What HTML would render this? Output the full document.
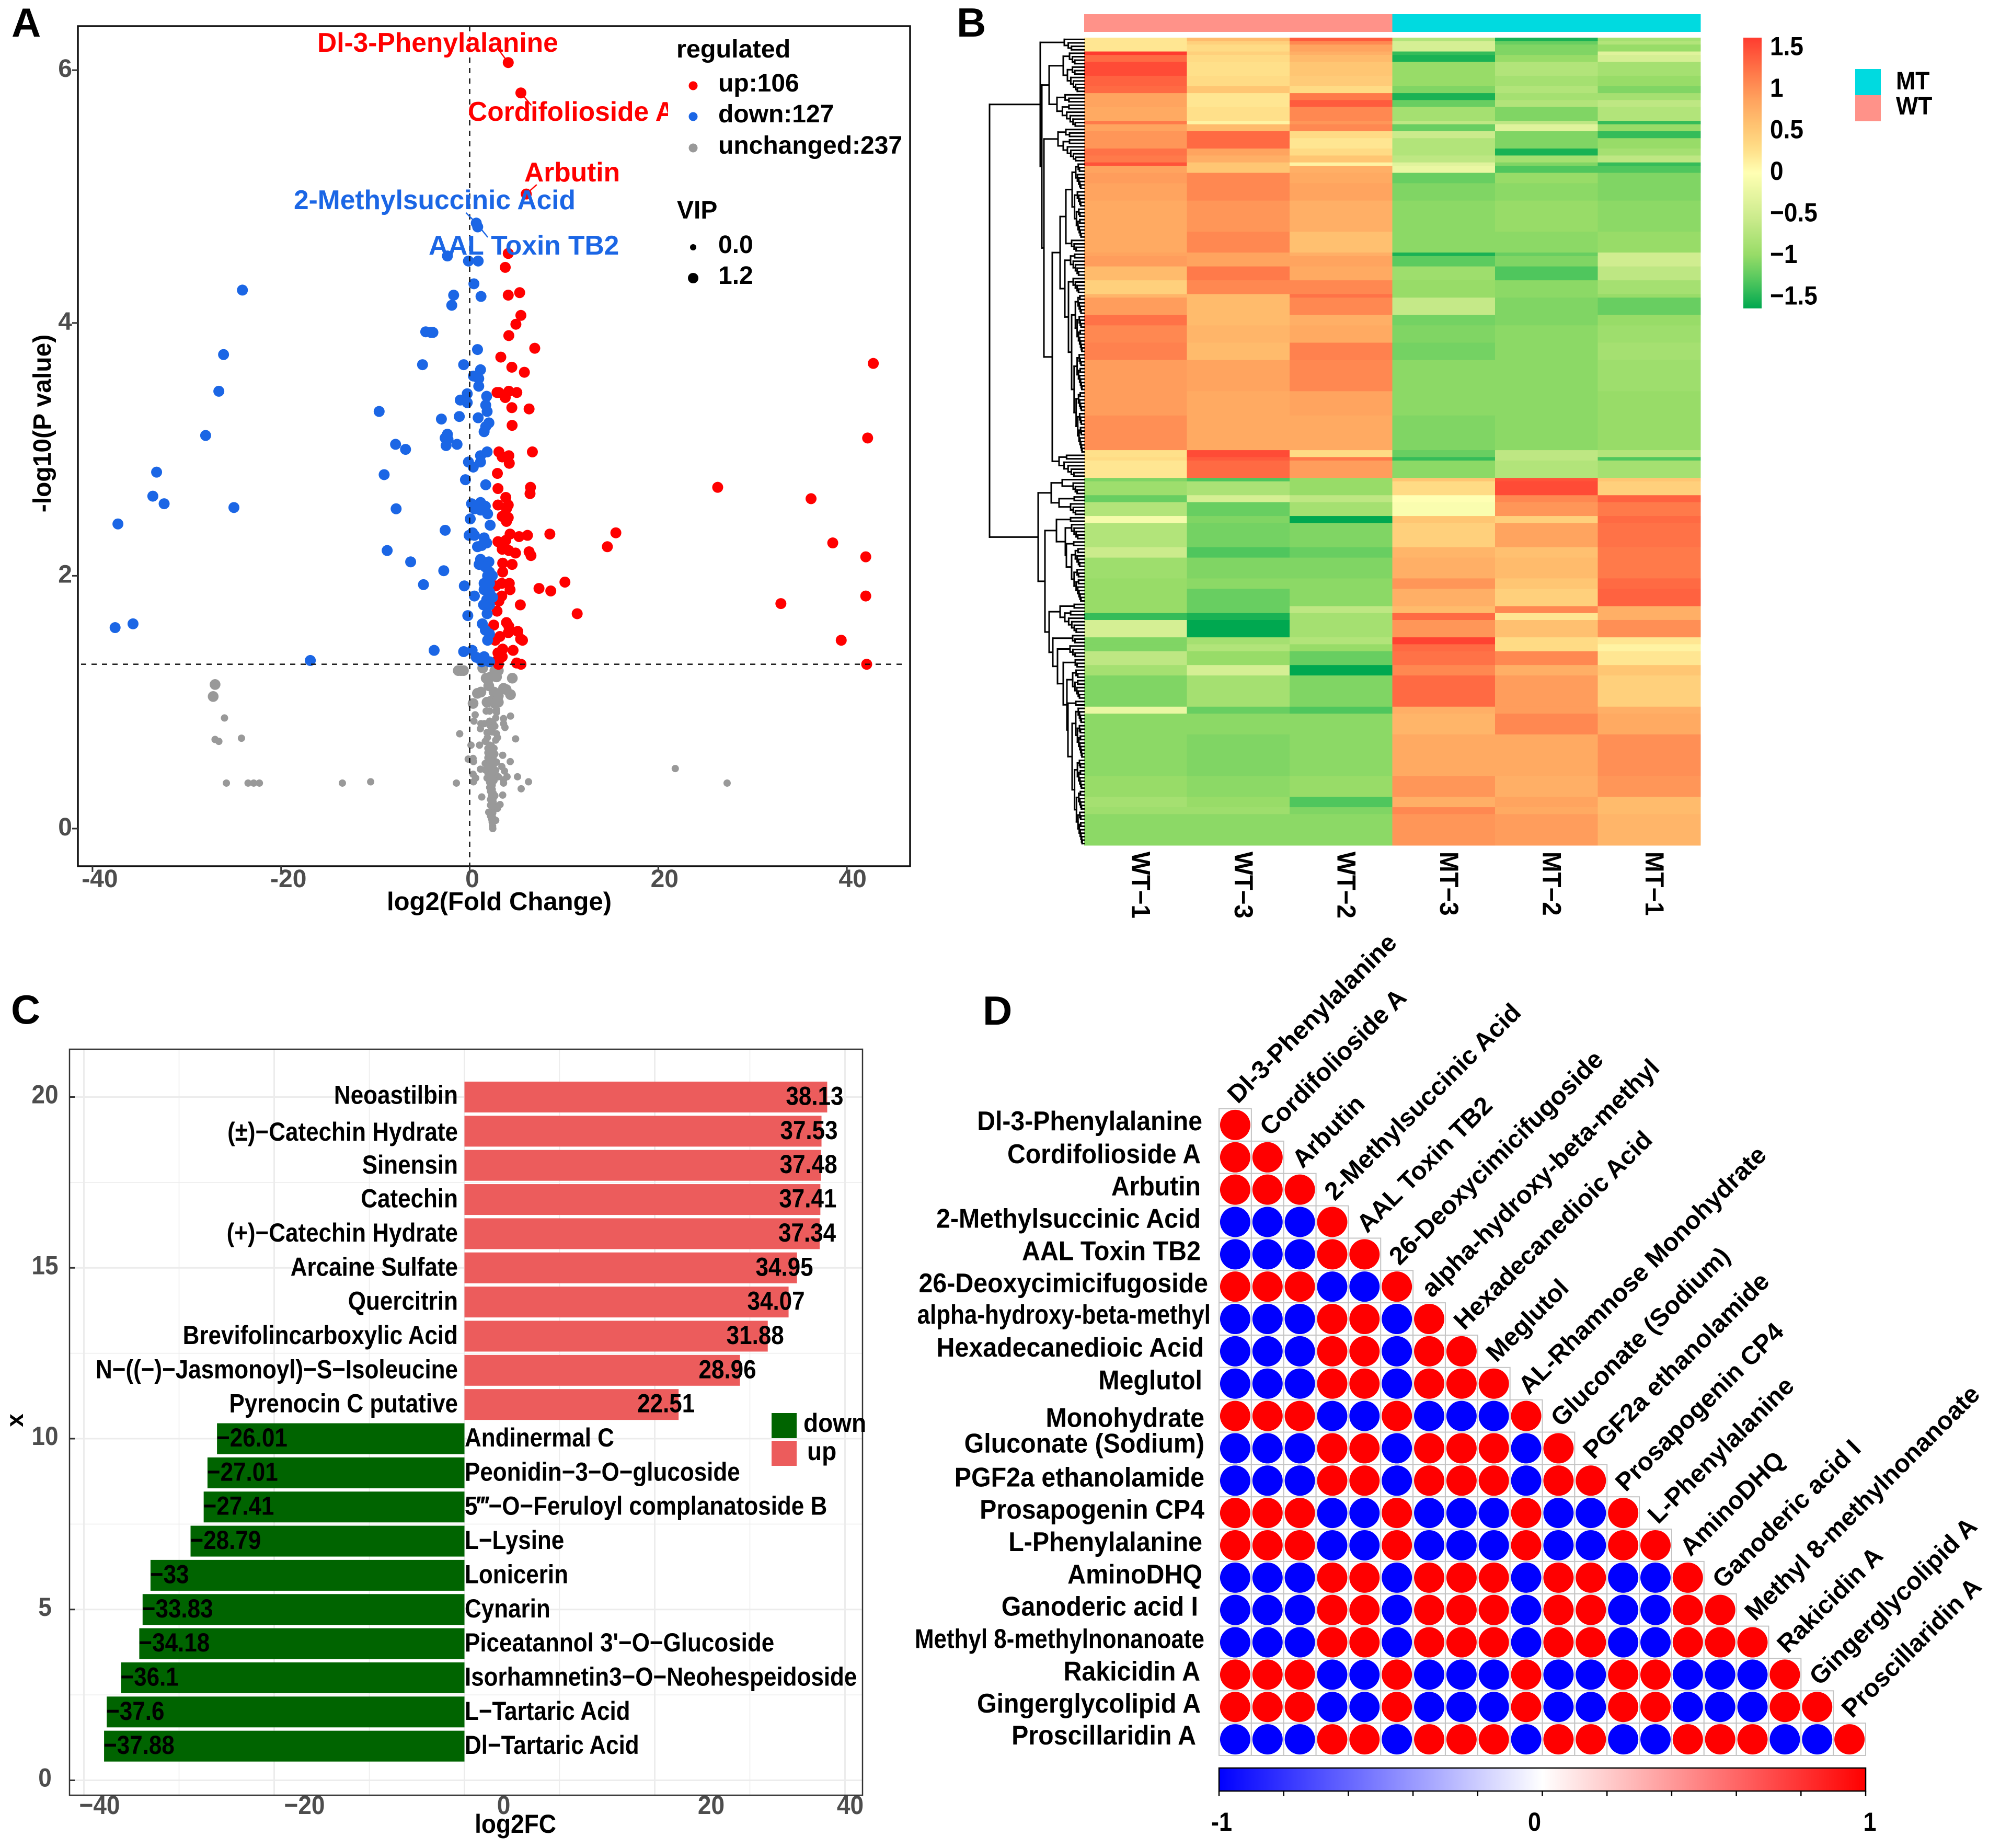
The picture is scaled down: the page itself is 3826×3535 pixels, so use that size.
<!DOCTYPE html>
<html lang="en">
<head>
<meta charset="utf-8">
<title>Metabolomics figure panels A-D</title>
<style>
html,body{margin:0;padding:0;background:#fff;}
svg{display:block;font-family:"Liberation Sans",Arial,sans-serif;font-weight:bold;}
</style>
</head>
<body>
<svg id="fig" xmlns="http://www.w3.org/2000/svg" width="3826" height="3535" viewBox="0 0 3826 3535">
<defs>
<linearGradient id="corrGrad" x1="0" x2="1" y1="0" y2="0"><stop offset="0" stop-color="#0000ff"/><stop offset="0.5" stop-color="#ffffff"/><stop offset="1" stop-color="#ff0000"/></linearGradient>
<linearGradient id="heatGrad" x1="0" x2="0" y1="1" y2="0"></linearGradient>
</defs>
<rect x="0" y="0" width="3826" height="3535" fill="#fff"/>

<text x="22" y="70" font-size="78" fill="#000">A</text>
<text x="1830" y="70" font-size="78" fill="#000">B</text>
<text x="21" y="1958" font-size="78" fill="#000">C</text>
<text x="1880" y="1960" font-size="78" fill="#000">D</text>

<g id="panelA"></g>
<g id="panelB"></g>
<g id="panelC"></g>
<g id="panelD"></g>
</svg>

<script>
/* ===== Panel A data: [log2FC, -log10P] ===== */
var upPoints = [[4.09,6.06],[5.43,5.82],[6.0,5.02],[4.09,4.55],[3.77,4.44],[5.3,4.24],[4.09,4.22],[5.43,4.06],[4.9,3.99],[4.15,3.9],[6.9,3.8],[3.3,3.73],[4.47,3.65],[5.8,3.61],[42.8,3.68],[42.2,3.09],[2.9,3.45],[3.1,3.45],[4.15,3.46],[5.0,3.45],[3.77,3.41],[4.47,3.33],[6.3,3.32],[4.5,3.19],[3.1,2.98],[6.65,2.98],[4.15,2.95],[3.45,2.94],[4.2,2.89],[2.94,2.81],[6.45,2.7],[3.0,2.69],[6.4,2.65],[3.83,2.62],[3.0,2.56],[4.09,2.56],[3.9,2.53],[3.45,2.47],[4.09,2.46],[3.9,2.43],[26.3,2.7],[36.2,2.61],[4.28,2.33],[6.13,2.32],[5.24,2.31],[8.5,2.33],[15.5,2.34],[14.6,2.23],[3.0,2.27],[3.83,2.28],[3.45,2.21],[4.15,2.2],[4.86,2.18],[6.3,2.19],[6.5,2.16],[38.5,2.26],[42.0,2.15],[3.5,2.1],[4.5,2.09],[3.5,2.03],[2.75,1.92],[3.4,1.94],[4.2,1.94],[4.28,1.89],[7.35,1.9],[8.6,1.88],[10.1,1.95],[3.4,1.84],[3.1,1.8],[5.37,1.77],[33.0,1.78],[42.0,1.84],[2.9,1.72],[11.4,1.7],[2.55,1.61],[3.9,1.63],[4.15,1.6],[4.1,1.55],[5.1,1.56],[3.2,1.52],[2.7,1.49],[5.4,1.5],[5.6,1.49],[39.4,1.49],[3.5,1.42],[4.6,1.41],[3.0,1.39],[3.45,1.36],[2.94,1.33],[3.05,1.3],[4.98,1.31],[5.44,1.3],[42.1,1.3]];
var downPoints = [[0.7,4.79],[0.85,4.76],[-2.36,4.53],[-0.13,4.49],[0.9,4.49],[0.45,4.31],[-24.1,4.26],[-1.7,4.22],[1.2,4.21],[-1.9,4.14],[-4.66,3.93],[-4.1,3.925],[-3.9,3.925],[0.83,3.79],[-26.1,3.75],[-5,3.67],[-0.64,3.67],[1.15,3.63],[0.4,3.58],[0.96,3.56],[0.96,3.5],[-26.6,3.46],[-0.26,3.44],[1.8,3.42],[-1.0,3.39],[-0.26,3.37],[1.7,3.35],[1.85,3.3],[-9.6,3.3],[-1.1,3.26],[0.9,3.25],[-3.0,3.24],[2.04,3.21],[1.7,3.18],[1.53,3.14],[-2.36,3.12],[-2.6,3.09],[-2.3,3.08],[-28.0,3.11],[-1.34,3.04],[-2.5,3.03],[-7.86,3.04],[-6.8,3.0],[1.85,2.98],[1.15,2.95],[-0.13,2.9],[1.15,2.9],[0.38,2.86],[-33.2,2.82],[-9.07,2.8],[-0.45,2.76],[1.7,2.72],[-33.6,2.63],[-32.4,2.57],[0.2,2.57],[1.15,2.58],[1.66,2.55],[0.5,2.53],[-25.0,2.54],[-7.8,2.53],[1.15,2.52],[1.9,2.49],[0.06,2.45],[-37.3,2.41],[2.17,2.4],[-2.6,2.36],[0.3,2.34],[-0.06,2.32],[0.5,2.32],[1.53,2.3],[1.8,2.26],[1.28,2.24],[0.83,2.23],[-8.75,2.2],[-6.26,2.11],[1.15,2.13],[2.04,2.11],[1.0,2.09],[1.66,2.07],[-2.75,2.04],[2.1,2.03],[1.9,2.0],[2.4,2.0],[1.53,1.94],[2.1,1.94],[-4.9,1.93],[-0.57,1.92],[1.53,1.89],[2.1,1.87],[0.5,1.84],[2.43,1.83],[1.8,1.81],[1.47,1.77],[2.1,1.77],[1.85,1.7],[-0.2,1.685],[1.34,1.62],[-37.6,1.59],[-35.7,1.62],[1.66,1.57],[2.1,1.54],[1.9,1.49],[-3.77,1.41],[-0.64,1.4],[0.26,1.41],[0.7,1.355],[1.53,1.36],[-16.9,1.33],[1.28,1.32],[2.1,1.32]];
var unchangedHighVip = [[-27.0,1.14],[-27.2,1.045],[1.38,1.27],[-1.21,1.25],[-0.93,1.25],[-0.66,1.25],[2.67,1.25],[3.04,1.25],[2.76,1.23],[1.75,1.19],[2.21,1.2],[2.85,1.2],[4.52,1.19],[2.02,1.13],[3.59,1.11],[3.87,1.1],[0.82,1.07],[1.19,1.08],[2.58,1.08],[4.33,1.06],[3.04,1.05],[0.36,0.99],[1.84,1.0],[2.3,1.01],[2.85,1.01],[3.04,1.0],[2.67,0.99]];
var unchangedLowVip = [[-26,0.875],[-27.0,0.705],[-26.6,0.69],[-24.2,0.715],[-25.8,0.36],[-23.5,0.36],[-22.9,0.36],[-22.3,0.36],[-13.5,0.36],[21.8,0.475],[27.3,0.36],[1.75,0.93],[2.12,0.93],[2.85,0.94],[2.85,0.92],[0.58,0.9],[4.33,0.89],[2.76,0.875],[3.59,0.87],[0.45,0.85],[1.19,0.83],[1.56,0.83],[2.12,0.85],[2.49,0.83],[3.59,0.83],[1.14,0.79],[3.74,0.8],[2.21,0.81],[2.67,0.81],[-1.06,0.75],[1.84,0.76],[2.39,0.765],[2.85,0.75],[1.88,0.72],[2.95,0.72],[2.76,0.7],[1.65,0.69],[4.87,0.71],[0.14,0.66],[1.04,0.66],[2.12,0.66],[2.3,0.655],[1.93,0.635],[2.39,0.615],[2.67,0.59],[3.5,0.58],[2.39,0.585],[1.93,0.56],[-0.16,0.55],[0.36,0.555],[0.4,0.53],[2.49,0.56],[2.3,0.54],[2.85,0.525],[4.3,0.53],[1.65,0.515],[2.21,0.51],[1.14,0.47],[1.65,0.465],[3.41,0.49],[2.3,0.475],[2.76,0.46],[3.69,0.455],[0.36,0.43],[1.93,0.44],[2.49,0.435],[3.96,0.41],[0.64,0.4],[1.84,0.4],[2.3,0.4],[3.04,0.41],[5.07,0.41],[-10.5,0.37],[-1.41,0.36],[0.4,0.37],[3.59,0.385],[3.59,0.36],[6.24,0.37],[2.12,0.365],[2.3,0.38],[2.12,0.325],[5.46,0.315],[2.39,0.31],[2.49,0.28],[1.28,0.25],[3.5,0.265],[2.67,0.26],[2.3,0.255],[2.21,0.23],[3.22,0.19],[2.49,0.21],[2.21,0.185],[2.67,0.18],[2.95,0.16],[2.02,0.13],[2.39,0.14],[2.39,0.11],[2.3,0.08],[2.76,0.065],[2.39,0.05],[2.43,0.02],[2.45,0.0],[2.21,0.34],[2.39,0.345],[2.21,0.295],[2.49,0.24],[2.3,0.2],[2.58,0.165],[2.45,0.125],[2.21,0.1],[2.49,0.08],[2.39,0.06],[2.21,0.42],[2.58,0.38],[1.93,0.6],[2.12,0.615],[2.58,0.635],[2.02,0.545],[2.58,0.51],[1.93,0.49],[2.39,0.46]];
var volcanoXTicks = [-40,-20,0,20,40];
var volcanoYTicks = [0,2,4,6];
var volcanoPThreshold = [1.3];
var volcanoFcThreshold = [0];

/* ===== Panel B data ===== */
var heatSamples = ["WT\u22121","WT\u22123","WT\u22122","MT\u22123","MT\u22122","MT\u22121"];
var heatGroups = ["WT","WT","WT","MT","MT","MT"];
var heatBandRows = [1,1,2,1,2,4,3,2,2,2,4,1,2,2,3,2,2,1,2,3,5,9,6,1,3,4,4,1,5,3,5,5,9,7,10,2,1,5,1,4,2,4,2,7,3,6,3,5,2,2,5,2,2,4,3,9,2,6,12,6,3,2,9];
var heatBandValues = [
[0.2,0.6,1.3,-0.7,-1.4,-0.8],[0.2,0.4,1.0,-0.4,-1.1,-0.7],[0.2,0.3,0.8,-0.4,-1,-0.9],[1.5,0.4,0.7,-1.3,-1,-0.3],[1.2,0.3,0.6,-1.4,-0.9,-0.4],[1.4,0.25,0.5,-0.9,-0.7,-0.8],[1.25,0.3,0.45,-0.9,-0.8,-0.9],[1.2,0.5,0.3,-1.0,-0.7,-1],[0.8,0.2,1.1,-1.4,-0.8,-0.8],[0.8,0.2,1.3,-1.1,-0.7,-0.6],[0.75,0.25,1.0,-0.8,-1,-0.7],[1.1,0.1,0.9,-0.6,-0.6,-1.3],[0.8,0.6,1.0,-1.1,-0.3,-0.9],[0.9,1.2,0.3,-0.5,-1,-1.3],[0.9,1.2,0.2,-0.7,-1,-0.9],[1.15,0.8,0.3,-0.7,-1.4,-0.8],[1.1,0.7,0.5,-0.6,-0.8,-0.6],[1.35,0.5,0.1,-0.3,-1,-1.3],[0.8,0.5,0.7,-0.2,-1.2,-1.2],[0.85,1.0,0.75,-1.1,-0.9,-1.0],[0.8,1.0,0.8,-1,-0.95,-1],[0.75,0.9,0.7,-0.95,-0.9,-0.95],[0.75,1.0,0.55,-0.95,-0.95,-0.9],[0.8,0.8,0.7,-1.4,-1.1,-0.45],[0.85,0.8,0.8,-1.15,-1.0,-0.45],[0.6,1.1,0.75,-0.85,-1.2,-0.6],[0.4,1.0,1.0,-0.9,-0.95,-0.8],[0.65,0.6,1.15,-0.9,-0.95,-0.9],[0.85,0.6,1.0,-0.55,-1,-1.1],[1.15,0.6,0.7,-1.05,-1.0,-0.9],[1.0,0.65,0.75,-1,-0.95,-0.85],[1.05,0.6,1.05,-1.05,-0.95,-0.8],[0.85,0.8,1.0,-0.95,-0.95,-0.85],[0.85,0.75,0.8,-0.95,-0.95,-0.9],[0.95,0.75,0.75,-1,-0.95,-0.9],[0.25,1.4,0.3,-1.1,-0.6,-0.7],[0.3,1.3,1.1,-1.3,-0.6,-1.2],[0.2,1.2,0.85,-0.95,-0.7,-0.8],
[-1,-1.2,-0.9,0.5,1.35,0.5],[-0.85,-0.75,-0.9,0.3,1.4,0.4],[-1.1,-0.4,-0.6,0.0,1.0,1.25],[-0.7,-1.1,-0.8,-0.05,0.9,1.1],[-0.1,-1,-1.5,0.5,0.4,1.2],[-0.7,-1.05,-1,0.4,0.8,1.15],[-0.5,-1.2,-1.1,0.65,0.55,1.1],[-0.85,-1.0,-1,0.7,0.6,1.1],[-0.9,-0.95,-0.95,0.9,0.5,1.2],[-0.9,-1.1,-0.95,0.7,0.4,1.25],[-0.9,-1.1,-0.6,0.6,1.0,0.7],[-1.3,-1.4,-0.8,1.2,0.2,0.7],[-0.4,-1.5,-0.8,0.9,0.55,0.95],[-1.0,-0.8,-0.7,1.45,0.3,0.2],[-1,-0.7,-0.9,1.2,0.3,0.1],[-0.6,-0.9,-1.1,1.15,1.0,0.2],[-0.8,-0.4,-1.5,1.0,0.7,0.5],[-1.0,-0.8,-1.0,1.2,0.85,0.4],[-0.2,-1.1,-1.2,0.7,0.85,0.7],[-0.95,-0.95,-0.95,0.65,1.0,0.75],[-0.95,-1.0,-0.95,0.75,0.75,0.95],[-0.9,-0.95,-0.9,0.9,0.7,0.9],[-0.8,-0.9,-1.2,0.7,0.8,0.6],[-0.85,-0.85,-1,1.0,0.75,0.6],[-0.95,-0.95,-0.95,0.9,0.85,0.65]];
var heatLegendTicks = [1.5,1,0.5,0,-0.5,-1,-1.5];
var heatLegendLabels = ["1.5","1","0.5","0","\u22120.5","\u22121","\u22121.5"];
/* cluster tree: [distance, child, child]; [distance, n] is a clade of n rows */
var dendroTree = [181,
  [84,[38,4],[81,[67,[40,12],[52,10]],[77,[50,10],[61,[46,[35,[23,22],[24,4]],[37,[26,7],[30,[21,5],[24,46]]]],[48,7]]]]],
  [88,
    [63,[42,[0,1],[21,4]],[48,[19,2],[26,4]]],
    [75,
      [53,[26,2],[36,[24,5],[34,[20,2],[24,16]]]],
      [67,
        [46,[19,2],[37,7]],
        [60,[22,3],[51,[27,4],[40,[17,3],[33,[22,9],[31,[16,2],[23,40]]]]]]
      ]
    ]
  ]
];

/* ===== Panel C data ===== */
var barCategories = ["Neoastilbin","(\u00b1)\u2212Catechin Hydrate","Sinensin","Catechin","(+)\u2212Catechin Hydrate","Arcaine Sulfate","Quercitrin","Brevifolincarboxylic Acid","N\u2212((\u2212)\u2212Jasmonoyl)\u2212S\u2212Isoleucine","Pyrenocin C putative","Andinermal C","Peonidin\u22123\u2212O\u2212glucoside","5\u2034\u2212O\u2212Feruloyl complanatoside B","L\u2212Lysine","Lonicerin","Cynarin","Piceatannol 3'\u2212O\u2212Glucoside","Isorhamnetin3\u2212O\u2212Neohespeidoside","L\u2212Tartaric Acid","Dl\u2212Tartaric Acid"];
var barValues = [38.13,37.53,37.48,37.41,37.34,34.95,34.07,31.88,28.96,22.51,-26.01,-27.01,-27.41,-28.79,-33,-33.83,-34.18,-36.1,-37.6,-37.88];
var barXTicks = [-40,-20,0,20,40];
var barXTickLabels = ["\u221240","\u221220","0","20","40"];
var barYTicks = [0,5,10,15,20];

/* ===== Panel D data ===== */
var corrNames = ["Dl-3-Phenylalanine","Cordifolioside A","Arbutin","2-Methylsuccinic Acid","AAL Toxin TB2","26-Deoxycimicifugoside","alpha-hydroxy-beta-methyl","Hexadecanedioic Acid","Meglutol","AL-Rhamnose Monohydrate","Gluconate (Sodium)","PGF2a ethanolamide","Prosapogenin CP4","L-Phenylalanine","AminoDHQ","Ganoderic acid I","Methyl 8-methylnonanoate","Rakicidin A","Gingerglycolipid A","Proscillaridin A"];
var corrRowLabels = ["Dl-3-Phenylalanine","Cordifolioside A","Arbutin","2-Methylsuccinic Acid","AAL Toxin TB2","26-Deoxycimicifugoside","alpha-hydroxy-beta-methyl","Hexadecanedioic Acid","Meglutol","Monohydrate","Gluconate (Sodium)","PGF2a ethanolamide","Prosapogenin CP4","L-Phenylalanine","AminoDHQ","Ganoderic acid I","Methyl 8-methylnonanoate","Rakicidin A","Gingerglycolipid A","Proscillaridin A"];
var corrMatrix = [
[1],
[1,1],
[1,1,1],
[-1,-1,-1,1],
[-1,-1,-1,1,1],
[1,1,1,-1,-1,1],
[-1,-1,-1,1,1,-1,1],
[-1,-1,-1,1,1,-1,1,1],
[-1,-1,-1,1,1,-1,1,1,1],
[1,1,1,-1,-1,1,-1,-1,-1,1],
[-1,-1,-1,1,1,-1,1,1,1,-1,1],
[-1,-1,-1,1,1,-1,1,1,1,-1,1,1],
[1,1,1,-1,-1,1,-1,-1,-1,1,-1,-1,1],
[1,1,1,-1,-1,1,-1,-1,-1,1,-1,-1,1,1],
[-1,-1,-1,1,1,-1,1,1,1,-1,1,1,-1,-1,1],
[-1,-1,-1,1,1,-1,1,1,1,-1,1,1,-1,-1,1,1],
[-1,-1,-1,1,1,-1,1,1,1,-1,1,1,-1,-1,1,1,1],
[1,1,1,-1,-1,1,-1,-1,-1,1,-1,-1,1,1,-1,-1,-1,1],
[1,1,1,-1,-1,1,-1,-1,-1,1,-1,-1,1,1,-1,-1,-1,1,1],
[-1,-1,-1,1,1,-1,1,1,1,-1,1,1,-1,-1,1,1,1,-1,-1,1]];
var corrBarTicks = [-1,-0.8,-0.6,-0.4,-0.2,0,0.2,0.4,0.6,0.8,1];
var corrBarLabels = ["-1","0","1"];
var corrBarLabelValues = [-1,0,1];

var NS = "http://www.w3.org/2000/svg";
function add(parent, tag, attrs) {
  var e = document.createElementNS(NS, tag);
  for (var k in attrs) { e.setAttribute(k, attrs[k]); }
  parent.appendChild(e);
  return e;
}
function addText(parent, str, x, y, size, fill, anchor, sx, rot) {
  var t = "translate(" + x + "," + y + ")";
  if (rot) { t += " rotate(" + rot + ")"; }
  if (sx && sx !== 1) { t += " scale(" + sx + ",1)"; }
  var e = add(parent, "text", { transform: t, "font-size": size, fill: fill, "text-anchor": anchor || "start" });
  e.textContent = str;
  return e;
}
function groupIn(parent) { return add(parent, "g", {}); }

/* ---------- Panel A ---------- */
(function () {
  var g = document.getElementById("panelA");
  var left = 149, right = 1741, top = 50, bottom = 1657;
  function sx(v) { return 898.5 + 18.04 * v; }
  function sy(v) { return 1585 - 241.8 * v; }

  function drawPoints(list, color, r, name) {
    var layer = groupIn(g);
    
    
    list.forEach(function (p) {
      var c = add(layer, "circle", { cx: sx(p[0]), cy: sy(p[1]), r: r, fill: color });
      
      
    });
  }
  drawPoints(unchangedLowVip, "#999999", 7, "unchanged-low-vip");
  drawPoints(unchangedHighVip, "#999999", 10.3, "unchanged-high-vip");
  drawPoints(upPoints, "#ff0000", 10.5, "up-regulated");
  drawPoints(downPoints, "#1b66e5", 10.5, "down-regulated");

  volcanoFcThreshold.forEach(function (v) {
    var l = add(g, "line", { x1: sx(v), x2: sx(v), y1: top, y2: bottom, stroke: "#111", "stroke-width": 2.5, "stroke-dasharray": "10 10" });
    
    
  });
  volcanoPThreshold.forEach(function (v) {
    var l = add(g, "line", { x1: left + 6, x2: right - 6, y1: sy(v), y2: sy(v), stroke: "#111", "stroke-width": 2.5, "stroke-dasharray": "10 10" });
    
    
  });

  /* point annotations: text, colour, point index in its list, leader offset, label position */
  var annColors = { up: "#ff0000", down: "#1b66e5" };
  var annText = ["Dl-3-Phenylalanine", "Cordifolioside A", "Arbutin", "2-Methylsuccinic Acid", "AAL Toxin TB2"];
  var annKind = ["up", "up", "up", "down", "down"];
  var annIndex = [0, 1, 2, 0, 0];
  var annLead = [[-18, -24], [20, 24], [20, -18], [-20, -20], [22, 27]];
  var annPos = [[607, 99], [895, 231], [1003, 347], [562, 400], [820, 487]];
  annText.forEach(function (t, i) {
    var p = (annKind[i] === "up" ? upPoints : downPoints)[annIndex[i]];
    var l = add(g, "line", { x1: sx(p[0]), y1: sy(p[1]), x2: sx(p[0]) + annLead[i][0], y2: sy(p[1]) + annLead[i][1], stroke: annColors[annKind[i]], "stroke-width": 2.5 });
    
    
    var e = addText(g, t, annPos[i][0], annPos[i][1], 51.5, annColors[annKind[i]], "start");
    
    
  });

  var box = add(g, "rect", { x: left, y: top, width: right - left, height: bottom - top, fill: "none", stroke: "#111", "stroke-width": 3.5 });
  
  

  var xLabelShift = [14, 14, 5, 12, 11];
  volcanoXTicks.forEach(function (v, i) {
    var l = add(g, "line", { x1: sx(v), x2: sx(v), y1: bottom, y2: bottom + 11, stroke: "#333", "stroke-width": 3 });
    
    
    var t = addText(g, String(v), sx(v) + xLabelShift[i], 1697, 48, "#4d4d4d", "middle");
    
    
  });
  volcanoYTicks.forEach(function (v) {
    var l = add(g, "line", { x1: left - 11, x2: left, y1: sy(v), y2: sy(v), stroke: "#333", "stroke-width": 3 });
    
    
    var t = addText(g, String(v), 138, sy(v) + 13, 48, "#4d4d4d", "end");
    
    
  });
  var xt = addText(g, "log2(Fold Change)", 955, 1741, 49, "#000", "middle");
  
  
  var yt = addText(g, "-log10(P value)", 97, 810, 48, "#000", "middle", 1, -90);
  
  

  /* legend */
  var clip = add(g, "rect", { x: 1278, y: 190, width: 16, height: 62, fill: "#fff" });
  
  
  var clip2 = add(g, "rect", { x: 1294, y: 190, width: 90, height: 62, fill: "#fff" });
  
  

  var lt = addText(g, "regulated", 1294, 110, 48.5, "#000");
  
  
  var legendLabels = ["up:106", "down:127", "unchanged:237"];
  var legendColors = ["#ff0000", "#1b66e5", "#999999"];
  var legendY = [158, 217, 277];
  legendLabels.forEach(function (s, i) {
    var d = add(g, "circle", { cx: 1326, cy: legendY[i] + 6, r: 8.5, fill: legendColors[i] });
    
    
    var e = addText(g, s, 1374, legendY[i] + 17, 48, "#000");
    
    
  });
  var vt = addText(g, "VIP", 1295, 418, 48, "#000");
  
  
  var vipLabels = ["0.0", "1.2"];
  var vipY = [468, 527];
  var vipR = [6, 10];
  vipLabels.forEach(function (s, i) {
    var d = add(g, "circle", { cx: 1326, cy: vipY[i] + 5, r: vipR[i], fill: "#000" });
    
    
    var e = addText(g, s, 1374, vipY[i] + 16, 48, "#000");
    
    
  });
})();

/* ---------- Panel B ---------- */
var heatStops = [[-1.5,[0,168,80]],[-1.15,[92,203,95]],[-0.9,[152,220,104]],[-0.5,[203,235,140]],[0,[255,255,179]],[0.25,[255,224,138]],[0.5,[255,198,115]],[0.8,[255,164,95]],[1.1,[255,122,74]],[1.5,[255,59,47]]];
function heatColor(v) {
  if (v <= heatStops[0][0]) { return "rgb(" + heatStops[0][1].join(",") + ")"; }
  for (var i = 1; i < heatStops.length; i++) {
    if (v <= heatStops[i][0]) {
      var a = heatStops[i - 1], b = heatStops[i], t = (v - a[0]) / (b[0] - a[0]);
      return "rgb(" + a[1].map(function (c, j) { return Math.round(c + (b[1][j] - c) * t); }).join(",") + ")";
    }
  }
  return "rgb(" + heatStops[heatStops.length - 1][1].join(",") + ")";
}
(function () {
  var g = document.getElementById("panelB");
  var left = 2074, right = 3253, top = 72, bottom = 1617;
  var totalRows = heatBandRows.reduce(function (a, b) { return a + b; }, 0);
  var rowH = (bottom - top) / totalRows;
  var colW = (right - left) / heatSamples.length;
  var groupColor = { WT: "#ff9289", MT: "#00dae0" };

  heatGroups.forEach(function (k, c) {
    var r = add(g, "rect", { x: left + c * colW, y: 27, width: colW + 0.5, height: 34, fill: groupColor[k] });
    
    
  });

  var row = 0;
  heatBandRows.forEach(function (n, b) {
    heatBandValues[b].forEach(function (v, c) {
      var r = add(g, "rect", { x: left + c * colW, y: top + row * rowH, width: colW + 0.5, height: n * rowH + 0.5, fill: heatColor(v) });
      
      
    });
    row += n;
  });

  heatSamples.forEach(function (s, c) {
    var t = addText(g, s, left + (c + 0.5) * colW - 7, 1629, 50, "#000", "start", 0.95, 90);
    
    
  });

  /* dendrogram */
  var dg = groupIn(g);
  
  
  var cursor = 0;
  function expand(node) {
    if (node.length === 2) {
      var n = node[1], h = node[0];
      if (n === 1) { return [0, 1]; }
      var a = Math.max(1, Math.floor(n * 0.38));
      return [h, expand([h * 0.7, a]), expand([h * 0.8, n - a])];
    }
    return [node[0], expand(node[1]), expand(node[2])];
  }
  function seg(x1, y1, x2, y2) {
    var l = add(dg, "line", { x1: x1, y1: y1, x2: x2, y2: y2, stroke: "#000", "stroke-width": 3, "stroke-linecap": "square" });
    
    
  }
  function draw(node) {
    if (node.length === 2) {
      var y = top + (cursor + 0.5) * rowH;
      cursor += 1;
      return { x: left, y: y };
    }
    var a = draw(node[1]), b = draw(node[2]);
    var x = left - node[0];
    seg(a.x, a.y, x, a.y);
    seg(b.x, b.y, x, b.y);
    seg(x, a.y, x, b.y);
    return { x: x, y: (a.y + b.y) / 2 };
  }
  draw(expand(dendroTree));

  /* colour legend */
  var grad = document.getElementById("heatGrad");
  for (var i = 0; i <= 30; i++) {
    var st = document.createElementNS(NS, "stop");
    st.setAttribute("offset", i / 30);
    st.setAttribute("stop-color", heatColor(-1.5 + i / 10));
    grad.appendChild(st);
  }
  var cb = add(g, "rect", { x: 3335, y: 72, width: 35, height: 518, fill: "url(#heatGrad)" });
  
  
  heatLegendTicks.forEach(function (v, i) {
    var t = addText(g, heatLegendLabels[i], 3386, 326 - v * 159 + 18, 50, "#000", "start", 0.92);
    
    
  });
  var groupKeys = ["MT", "WT"];
  groupKeys.forEach(function (k, i) {
    var r = add(g, "rect", { x: 3549, y: 132 + i * 50, width: 49, height: 50, fill: groupColor[k] });
    
    
    var t = addText(g, k, 3627, 171 + i * 48, 48, "#000", "start", 0.93);
    
    
  });
})();

/* ---------- Panel C ---------- */
(function () {
  var g = document.getElementById("panelC");
  var left = 133, right = 1650, top = 2007, bottom = 3434;
  function sx(v) { return 888.5 + 18.2 * v; }
  function sy(v) { return 3405.5 - 65.35 * v; }
  var gridV = [-40,-30,-20,-10,0,10,20,30,40];
  gridV.forEach(function (v, i) {
    var l = add(g, "line", { x1: sx(v), x2: sx(v), y1: top, y2: bottom, stroke: "#ececec", "stroke-width": i % 2 === 0 ? 3 : 1.5 });
    
    
  });
  var gridH = [0,2.5,5,7.5,10,12.5,15,17.5,20];
  gridH.forEach(function (v, i) {
    var l = add(g, "line", { x1: left, x2: right, y1: sy(v), y2: sy(v), stroke: "#ececec", "stroke-width": i % 2 === 0 ? 3 : 1.5 });
    
    
  });
  var n = barValues.length;
  var textScale = 0.88;
  var labelNudgeY = [-2,3,1,0,0,0,0,0,0,0,0,0,0,0,0,0,0,0,0,0];
  barValues.forEach(function (v, i) {
    var pos = n - i;
    var x0 = sx(0), x1 = sx(v), cy = sy(pos), bh = 59;
    var r = add(g, "rect", { x: Math.min(x0, x1), y: cy - bh / 2, width: Math.abs(x1 - x0), height: bh, fill: v > 0 ? "#ec5c5c" : "#006400" });
    
    
    var lab;
    if (v > 0) {
      lab = addText(g, barCategories[i], 876, cy + 15 + labelNudgeY[i], 50, "#000", "end", textScale);
    } else {
      lab = addText(g, barCategories[i], 889, cy + 15, 50, "#000", "start", textScale);
    }
    
    
    var val;
    var s = String(v).replace("-", "\u2212");
    if (v > 0) {
      val = addText(g, s, x1 - 24, cy + 15, 50, "#000", "middle", textScale);
    } else {
      val = addText(g, s, x1 - 1, cy + 15, 50, "#000", "start", textScale);
    }
    
    
  });
  var box = add(g, "rect", { x: left, y: top, width: right - left, height: bottom - top, fill: "none", stroke: "#333", "stroke-width": 2.5 });
  
  

  barYTicks.forEach(function (v) {
    var l = add(g, "line", { x1: left, x2: left + 10, y1: sy(v), y2: sy(v), stroke: "#333", "stroke-width": 3 });
    
    
    var t = addText(g, String(v), 86, sy(v) + 12, 50, "#4d4d4d", "middle", 0.92);
    
    
  });
  var labelShift = [30, 58, 75, 108, 10];
  barXTicks.forEach(function (v, i) {
    var t = addText(g, barXTickLabels[i], sx(v) + labelShift[i], 3470, 50, "#4d4d4d", "middle", 0.92);
    
    
  });
  var xt = addText(g, "log2FC", 986, 3506, 50, "#000", "middle", 0.92);
  
  
  var yt = addText(g, "x", 44, 2717, 46, "#000", "middle", 1, -90);
  
  

  var legendKeys = ["down", "up"];
  var legendFill = ["#006400", "#ec5c5c"];
  var legendText = [1537, 1544];
  legendKeys.forEach(function (k, i) {
    var r = add(g, "rect", { x: 1476, y: 2703 + i * 53, width: 48, height: 48, fill: legendFill[i] });
    
    
    var t = addText(g, k, legendText[i], 2739 + i * 54, 50, "#000", "start", 0.92);
    
    
  });
})();

/* ---------- Panel D ---------- */
(function () {
  var g = document.getElementById("panelD");
  var left = 2332, top = 2121, cell = 61.85;
  function corrColor(v) {
    var t = Math.min(1, Math.abs(v));
    var o = Math.round(255 * (1 - t));
    return v >= 0 ? "rgb(255," + o + "," + o + ")" : "rgb(" + o + "," + o + ",255)";
  }
  var labelRight = [2300,2297,2297,2297,2297,2311,2316,2303,2300,2304,2304,2304,2304,2300,2300,2292,2304,2296,2297,2288];
  var labelNudge = [-1,0,0,0,0,0,-2,-1,0,10,-3,0,0,0,0,0,0,0,0,-1];
  var labelSquash = [0.926,0.926,0.926,0.93,0.93,0.93,0.845,0.93,0.93,0.93,0.93,0.93,0.93,0.93,0.93,0.93,0.845,0.93,0.93,0.93];
  corrMatrix.forEach(function (rowVals, i) {
    rowVals.forEach(function (v, j) {
      var r = add(g, "rect", { x: left + j * cell, y: top + i * cell, width: cell, height: cell, fill: "#fff", stroke: "#c4c4c4", "stroke-width": 2 });
      
      
      var c = add(g, "circle", { cx: left + (j + 0.5) * cell, cy: top + (i + 0.5) * cell, r: 29 * Math.sqrt(Math.abs(v)), fill: corrColor(v) });
      
      
    });
    var t = addText(g, corrRowLabels[i], labelRight[i], top + (i + 0.5) * cell + 11 + labelNudge[i], 52, "#000", "end", labelSquash[i]);
    
    
  });
  corrNames.forEach(function (s, i) {
    var t = addText(g, s, 2368 + i * cell, 2113 + i * cell, 48.5, "#000", "start", 1, -45);
    
    
  });
  var barX = 2332, barW = 1237, barY = 3382, barH = 44;
  function bx(v) { return barX + (v + 1) / 2 * barW; }
  var bar = add(g, "rect", { x: barX, y: barY, width: barW, height: barH, fill: "url(#corrGrad)", stroke: "#000", "stroke-width": 2.5 });
  
  
  corrBarTicks.forEach(function (v) {
    var l = add(g, "line", { x1: bx(v), x2: bx(v), y1: barY + barH, y2: barY + barH + 10, stroke: "#000", "stroke-width": 2.5 });
    
    
  });
  var labelShift = [5, -15, 8];
  corrBarLabels.forEach(function (s, i) {
    var t = addText(g, s, bx(corrBarLabelValues[i]) + labelShift[i], 3502, 50, "#000", "middle", 0.9);
    
    
  });
})();
</script>
</body>
</html>
